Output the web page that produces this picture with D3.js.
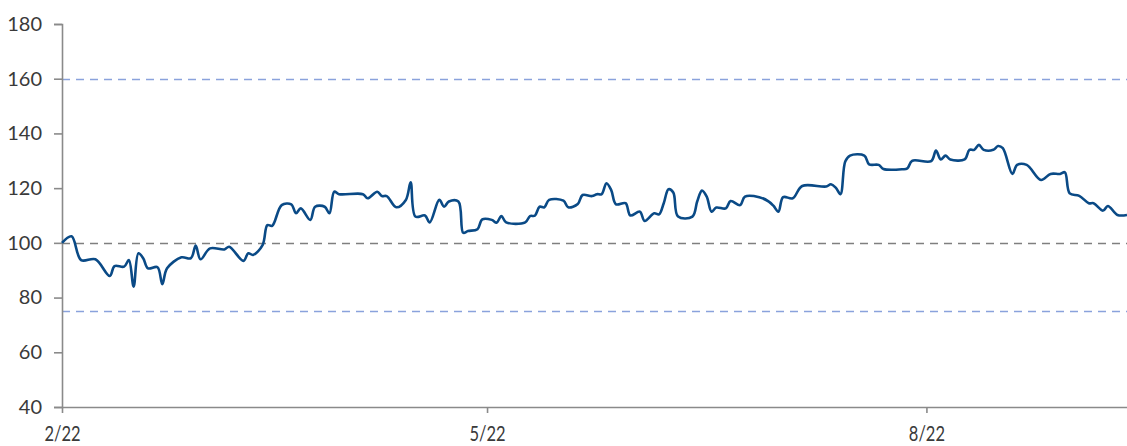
<!DOCTYPE html>
<html>
<head>
<meta charset="utf-8">
<script src="https://cdn.jsdelivr.net/npm/d3@7"></script>
<style>
  body { margin: 0; background: #fff; }
  .ylab { font-family: Lato, "Open Sans", sans-serif; font-size: 20px; fill: #3a3a3a; }
  .xlab { font-family: Lato, "Open Sans", sans-serif; font-size: 22px; fill: #3a3a3a; }
</style>
</head>
<body>
<svg class="chart" width="1127" height="446"></svg>
<script>
// index series
const dates = [
  "2022-02-01","2022-02-03","2022-02-05","2022-02-08","2022-02-11","2022-02-12","2022-02-14","2022-02-15",
  "2022-02-16","2022-02-17","2022-02-18","2022-02-19","2022-02-21","2022-02-22","2022-02-23","2022-02-26",
  "2022-02-28","2022-03-01","2022-03-02","2022-03-04","2022-03-07","2022-03-08","2022-03-11","2022-03-12",
  "2022-03-13","2022-03-15","2022-03-16","2022-03-17","2022-03-19","2022-03-21","2022-03-22","2022-03-23",
  "2022-03-25","2022-03-26","2022-03-28","2022-03-29","2022-03-30","2022-03-31","2022-04-05","2022-04-06",
  "2022-04-08","2022-04-09","2022-04-10","2022-04-12","2022-04-14","2022-04-15","2022-04-16","2022-04-18",
  "2022-04-19","2022-04-21","2022-04-22","2022-04-23","2022-04-25","2022-04-26","2022-04-27","2022-04-29",
  "2022-04-30","2022-05-02","2022-05-03","2022-05-04","2022-05-05","2022-05-09","2022-05-10","2022-05-11",
  "2022-05-12","2022-05-13","2022-05-14","2022-05-17","2022-05-18","2022-05-20","2022-05-21","2022-05-23",
  "2022-05-24","2022-05-25","2022-05-26","2022-05-27","2022-05-28","2022-05-30","2022-05-31","2022-06-02",
  "2022-06-03","2022-06-05","2022-06-06","2022-06-07","2022-06-08","2022-06-09","2022-06-10","2022-06-13",
  "2022-06-14","2022-06-15","2022-06-16","2022-06-17","2022-06-18","2022-06-20","2022-06-21","2022-06-23",
  "2022-06-24","2022-06-27","2022-06-29","2022-06-30","2022-07-01","2022-07-02","2022-07-04","2022-07-06",
  "2022-07-11","2022-07-12","2022-07-13","2022-07-14","2022-07-15","2022-07-16","2022-07-19","2022-07-20",
  "2022-07-22","2022-07-23","2022-07-27","2022-07-28","2022-07-29","2022-08-02","2022-08-03","2022-08-04",
  "2022-08-05","2022-08-06","2022-08-09","2022-08-10","2022-08-11","2022-08-12","2022-08-13","2022-08-15",
  "2022-08-16","2022-08-17","2022-08-19","2022-08-20","2022-08-22","2022-08-25","2022-08-27","2022-08-29",
  "2022-08-30","2022-08-31","2022-09-02","2022-09-04","2022-09-05","2022-09-07","2022-09-08","2022-09-10",
  "2022-09-12"
];
const values = [
  100.0,102.4,93.7,94.0,87.9,91.5,91.3,93.7,
  84.0,96.2,94.4,90.7,91.1,84.9,90.7,94.7,
  94.4,99.0,94.0,98.0,97.6,98.6,93.4,96.2,
  95.6,99.2,106.5,106.2,113.8,114.1,110.8,112.6,
  108.4,113.2,113.2,110.8,118.7,117.8,117.8,116.3,
  118.7,117.1,117.1,113.0,115.7,122.1,109.6,110.0,
  107.5,115.7,113.2,115.1,115.1,103.7,104.3,105.0,
  108.6,108.4,107.4,109.8,107.5,107.5,109.8,109.9,
  113.2,113.0,115.7,115.4,113.0,114.2,117.5,117.1,
  117.8,117.8,121.8,119.3,114.1,114.5,110.0,111.4,
  108.0,110.8,110.4,114.5,119.6,118.4,109.6,109.6,
  115.1,119.1,116.9,111.4,112.9,112.6,115.3,113.8,
  116.9,116.7,115.1,113.5,111.4,116.7,116.3,120.8,
  120.6,121.4,120.2,117.8,129.7,131.9,131.9,128.7,
  128.5,127.0,126.9,127.2,130.0,129.9,133.7,130.5,
  131.9,130.5,130.5,134.0,134.0,135.8,134.0,134.0,
  135.4,134.6,125.2,128.5,128.5,123.0,125.2,125.2,
  125.8,118.1,117.2,114.5,114.5,111.8,113.5,110.2,
  110.2
];

const yTicks = [40, 60, 80, 100, 120, 140, 160, 180];
const xTickDates = ["2022-02-01", "2022-05-01", "2022-08-01"];
const xTickLabels = ["2/22", "5/22", "8/22"];
const refLevels = [160, 100, 75];
const refColors = ["#8aa2dc", "#7f7f7f", "#8aa2dc"];

const parse = d3.timeParse("%Y-%m-%d");
const series = dates.map((d, i) => ({ date: parse(d), value: values[i] }));

const svg = d3.select(".chart");
const plot = { left: 62, right: 1127, top: 24, bottom: 407 };

const x = d3.scaleTime()
    .domain([parse("2022-02-01"), parse("2022-09-12")])
    .range([plot.left, plot.right]);
const y = d3.scaleLinear()
    .domain([40, 180])
    .range([plot.bottom, plot.top]);

// dashed reference lines, snapped to the pixel grid so they stay crisp
svg.append("g")
    .selectAll("line").data(refLevels)
    .enter()
    .append("line")
    .attr("x1", plot.left)
    .attr("x2", plot.right)
    .attr("y1", d => Math.round(y(d)) + 0.5)
    .attr("y2", d => Math.round(y(d)) + 0.5)
    .attr("stroke", (d, i) => refColors[i])
    .attr("stroke-width", 1.5)
    .attr("stroke-dasharray", "8,6");

// y axis
const yAxis = svg.append("g")
    .attr("transform", "translate(" + plot.left + ",0)")
    .call(d3.axisLeft(y).tickValues(yTicks).tickSize(8).tickPadding(12));
yAxis.selectAll("path,line").attr("stroke", "#8a8a8a").attr("stroke-width", 1.6);
yAxis.selectAll("text").attr("class", "ylab");
yAxis.attr("font-family", null).attr("font-size", null);

// x axis
const xAxis = svg.append("g")
    .attr("transform", "translate(0," + plot.bottom + ")")
    .call(d3.axisBottom(x)
        .tickValues(xTickDates.map(parse))
        .tickFormat((d, i) => xTickLabels[i])
        .tickSize(6).tickSizeOuter(0).tickPadding(12));
xAxis.selectAll("path,line").attr("stroke", "#8a8a8a").attr("stroke-width", 1.6);
// the original labels are set in a narrow face; squeeze them sideways
xAxis.selectAll("text").attr("class", "xlab").attr("transform", "scale(0.75,1)");
xAxis.attr("font-family", null).attr("font-size", null);

// the series
const line = d3.line()
    .x(d => x(d.date))
    .y(d => y(d.value))
    .curve(d3.curveCatmullRom.alpha(0.5));

svg.append("path")
    .datum(series)
    .attr("fill", "none")
    .attr("stroke", "#0a4a86")
    .attr("stroke-width", 2.6)
    .attr("stroke-linejoin", "round")
    .attr("d", line);
</script>
</body>
</html>
